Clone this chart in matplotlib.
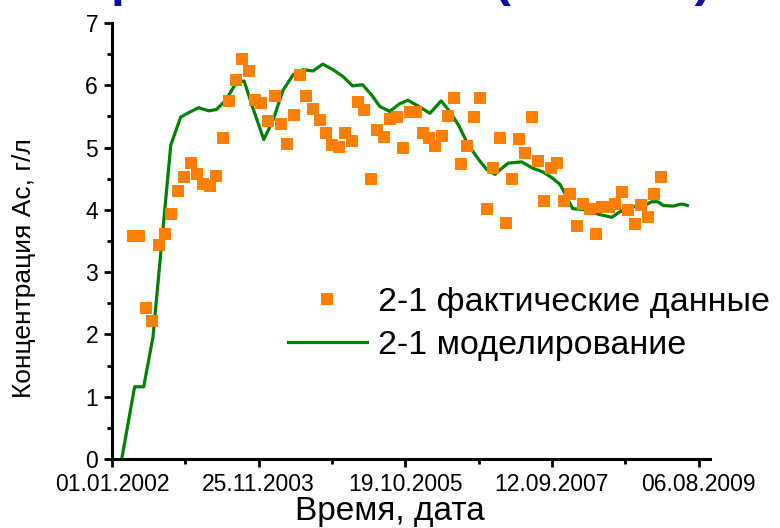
import numpy as np
import pandas as pd
import matplotlib
matplotlib.use("Agg")
import matplotlib.pyplot as plt
import matplotlib.dates as mdates
from matplotlib.ticker import FixedLocator

plt.rcParams['font.family'] = ['Liberation Sans', 'DejaVu Sans']

# Measured concentration, monthly samples starting April 2002 (g/l)
obs_start = "2002-04-08"
obs_values = [
    3.58, 3.58, 2.43, 2.21, 3.43, 3.62, 3.94, 4.30, 4.53, 4.75,
    4.57, 4.41, 4.39, 4.55, 5.15, 5.75, 6.09, 6.43, 6.23, 5.76,
    5.72, 5.43, 5.82, 5.38, 5.05, 5.53, 6.16, 5.82, 5.62, 5.44,
    5.23, 5.04, 5.01, 5.23, 5.10, 5.73, 5.61, 4.49, 5.28, 5.17,
    5.46, 5.49, 5.00, 5.57, 5.57, 5.24, 5.15, 5.02, 5.19, 5.51,
    5.79, 4.74, 5.03, 5.49, 5.80, 4.02, 4.68, 5.16, 3.79, 4.49,
    5.14, 4.91, 5.49, 4.78, 4.15, 4.68, 4.75, 4.14, 4.25, 3.74,
    4.09, 4.02, 3.62, 4.04, 4.04, 4.09, 4.28, 4.00, 3.78, 4.07,
    3.88, 4.25, 4.53,
]

# Simulated concentration: days since 01.01.2002 and values (g/l)
model_days = [
    45, 106, 149, 193, 277, 324, 367, 409, 458, 493,
    537, 585, 624, 666, 717, 761, 808, 856, 903, 950,
    996, 1045, 1092, 1137, 1184, 1228, 1266, 1313, 1358, 1399,
    1451, 1503, 1556, 1597, 1640, 1673, 1708, 1740, 1771, 1811,
    1837, 1873, 1937, 1989, 2036, 2079, 2118, 2142, 2162, 2178,
    2213, 2260, 2300, 2363, 2402, 2465, 2529, 2552, 2581, 2607,
    2655, 2686, 2705, 2721,
]
model_values = [
    0.00, 1.16, 1.16, 1.96, 5.04, 5.49, 5.57, 5.64, 5.59, 5.61,
    5.76, 6.03, 6.07, 5.63, 5.13, 5.44, 5.92, 6.17, 6.25, 6.23,
    6.34, 6.25, 6.14, 5.99, 6.01, 5.84, 5.66, 5.58, 5.70, 5.76,
    5.66, 5.55, 5.75, 5.58, 5.35, 5.12, 4.93, 4.78, 4.65, 4.57,
    4.65, 4.75, 4.77, 4.67, 4.61, 4.52, 4.41, 4.26, 4.13, 4.02,
    4.01, 3.99, 3.93, 3.88, 3.97, 4.05, 4.09, 4.13, 4.13, 4.07,
    4.06, 4.09, 4.09, 4.07,
]

x_tick_labels = ["01.01.2002", "25.11.2003", "19.10.2005", "12.09.2007", "06.08.2009"]
y_ticks = [0, 1, 2, 3, 4, 5, 6, 7]

series_obs = "2-1 фактические данные"
series_model = "2-1 моделирование"

origin = pd.Timestamp("2002-01-01")
obs_dates = pd.date_range(obs_start, periods=len(obs_values), freq=pd.DateOffset(months=1))
model_dates = origin + pd.to_timedelta(model_days, unit="D")

fig = plt.figure(figsize=(7.8, 5.28), dpi=100)
ax = fig.add_axes([112 / 780, 69 / 528, 598 / 780, 436 / 528])

orange = "#ff8000"
green = "#008000"

ax.plot(obs_dates, obs_values, linestyle="none", marker="s", markersize=9,
        markerfacecolor=orange, markeredgewidth=0, color=orange,
        label=series_obs, zorder=3)
ax.plot(model_dates, model_values, color=green, linewidth=2.3,
        label=series_model, zorder=2)

tick_dates = pd.to_datetime(x_tick_labels, format="%d.%m.%Y")
tick_nums = mdates.date2num(tick_dates)
ax.set_xlim(mdates.date2num(origin) - 1, mdates.date2num(pd.Timestamp("2009-09-29")))
ax.set_ylim(0, 7)

ax.xaxis.set_major_locator(FixedLocator(tick_nums))
ax.set_xticklabels(x_tick_labels)
ax.xaxis.set_minor_locator(FixedLocator((tick_nums[:-1] + tick_nums[1:]) / 2))
ax.set_yticks(y_ticks)
ax.yaxis.set_minor_locator(FixedLocator(np.arange(0.5, 7, 1.0)))

for side in ("top", "right"):
    ax.spines[side].set_visible(False)
for side in ("left", "bottom"):
    ax.spines[side].set_linewidth(2.2)

ax.tick_params(which="major", direction="out", length=6, width=2.0, labelsize=16.5)
ax.tick_params(which="minor", direction="out", length=3.5, width=2.0)
ax.tick_params(axis="x", which="major", pad=4)
ax.tick_params(axis="y", which="major", pad=4)

ax.set_xlabel("Время, дата", fontsize=24, va="top")
ax.xaxis.set_label_coords(0.465, -0.086)
ax.set_ylabel("Концентрация Ас, г/л", fontsize=19, va="center")
ax.yaxis.set_label_coords(-0.147, 0.439)

ax.legend(loc="upper left", bbox_to_anchor=(288 / 780, 1 - 287 / 528),
          bbox_transform=fig.transFigure, frameon=False, fontsize=24.5,
          handlelength=2.32, handletextpad=0.32, labelspacing=0.34,
          borderpad=0, borderaxespad=0, numpoints=1)

fig.text(75 / 780, 1 + 4.5 / 528, "Прогноз Ас 2009 (скв. 2-1)",
         fontsize=36, fontweight="bold", color="#0a0aa0",
         ha="left", va="baseline")

fig.savefig("out.png", dpi=100)
